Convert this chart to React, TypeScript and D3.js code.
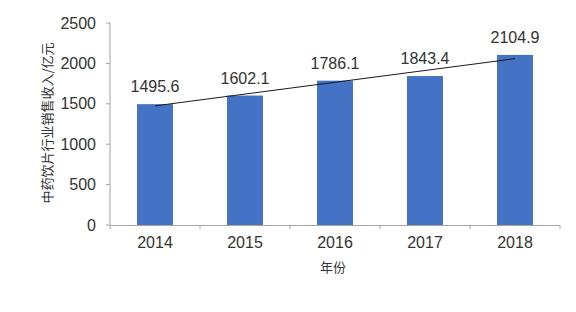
import React from "react";
import * as d3 from "d3";

const categories = ["2014", "2015", "2016", "2017", "2018"];
const values = [1495.6, 1602.1, 1786.1, 1843.4, 2104.9];
const yTicks = [0, 500, 1000, 1500, 2000, 2500];
const yTitle = "中药饮片行业销售收入/亿元";
const xTitle = "年份";

const W = 576;
const H = 312;
const left = 110;
const right = 560;
const top = 23;
const bottom = 225;
const font = "'Liberation Sans', Arial, 'Noto Sans CJK SC', sans-serif";
const cjk = "'Noto Sans CJK SC', sans-serif";

export default function App() {
  const x = d3.scaleBand<string>().domain(categories).range([left, right]).paddingInner(0.6).paddingOuter(0.3);
  const xb = d3.scaleBand<string>().domain(categories).range([left, right]);
  const y = d3.scaleLinear().domain([0, 2500]).range([bottom, top]);

  // linear trend line (least squares)
  const n = values.length;
  const idx = values.map((_, i) => i);
  const mx = d3.mean(idx) as number;
  const my = d3.mean(values) as number;
  const slope =
    d3.sum(idx.map((i) => (i - mx) * (values[i] - my))) / d3.sum(idx.map((i) => (i - mx) ** 2));
  const icpt = my - slope * mx;
  const trend: [number, number][] = idx.map((i) => [xb(categories[i])! + xb.bandwidth() / 2, y(icpt + slope * i)]);
  const trendEnds = [trend[0], trend[n - 1]];
  const line = d3.line();

  const axisColor = "#a6a6a6";
  const txt = "#333";
  return (
    <svg width={W} height={H} style={{ display: "block", position: "absolute", left: 0, top: 0 }}>
      <rect width={W} height={H} fill="#fff" />
      {/* y axis */}
      <line x1={left} x2={left} y1={top} y2={bottom} stroke={axisColor} />
      {yTicks.map((t) => (
        <g key={t}>
          <line x1={left - 4} x2={left} y1={y(t)} y2={y(t)} stroke={axisColor} />
          <text x={96} y={y(t)} dy="0.35em" textAnchor="end" fontSize={16} fontFamily={font} fill={txt}>
            {t}
          </text>
        </g>
      ))}
      {/* bars */}
      {categories.map((c, i) => (
        <rect key={c} x={x(c)} y={y(values[i])} width={x.bandwidth()} height={bottom - y(values[i])} fill="#4472c4" />
      ))}
      {/* x axis */}
      <line x1={left} x2={right} y1={bottom + 0.5} y2={bottom + 0.5} stroke={axisColor} />
      {categories.map((c) => (
        <line key={"t" + c} x1={xb(c)! + xb.bandwidth()} x2={xb(c)! + xb.bandwidth()} y1={bottom} y2={bottom + 4} stroke={axisColor} />
      ))}
      <line x1={left} x2={left} y1={bottom} y2={bottom + 4} stroke={axisColor} />
      {categories.map((c) => (
        <text key={"l" + c} x={xb(c)! + xb.bandwidth() / 2} y={248} textAnchor="middle" fontSize={16} fontFamily={font} fill={txt}>
          {c}
        </text>
      ))}
      {/* trend line */}
      <path d={line(trendEnds) || ""} stroke="#1a1a1a" strokeWidth={1} fill="none" />
      {/* data labels */}
      {categories.map((c, i) => (
        <text key={"v" + c} x={xb(c)! + xb.bandwidth() / 2} y={y(values[i]) - 12} textAnchor="middle" fontSize={16} fontFamily={font} fill={txt}>
          {values[i].toFixed(1)}
        </text>
      ))}
      {/* titles */}
      <text x={333} y={272} textAnchor="middle" fontSize={13} fontFamily={cjk} fill={txt}>
        {xTitle}
      </text>
      <text transform={`translate(52,${123}) rotate(-90)`} textAnchor="middle" fontSize={13} fontFamily={cjk} fill={txt}>
        {yTitle}
      </text>
    </svg>
  );
}
